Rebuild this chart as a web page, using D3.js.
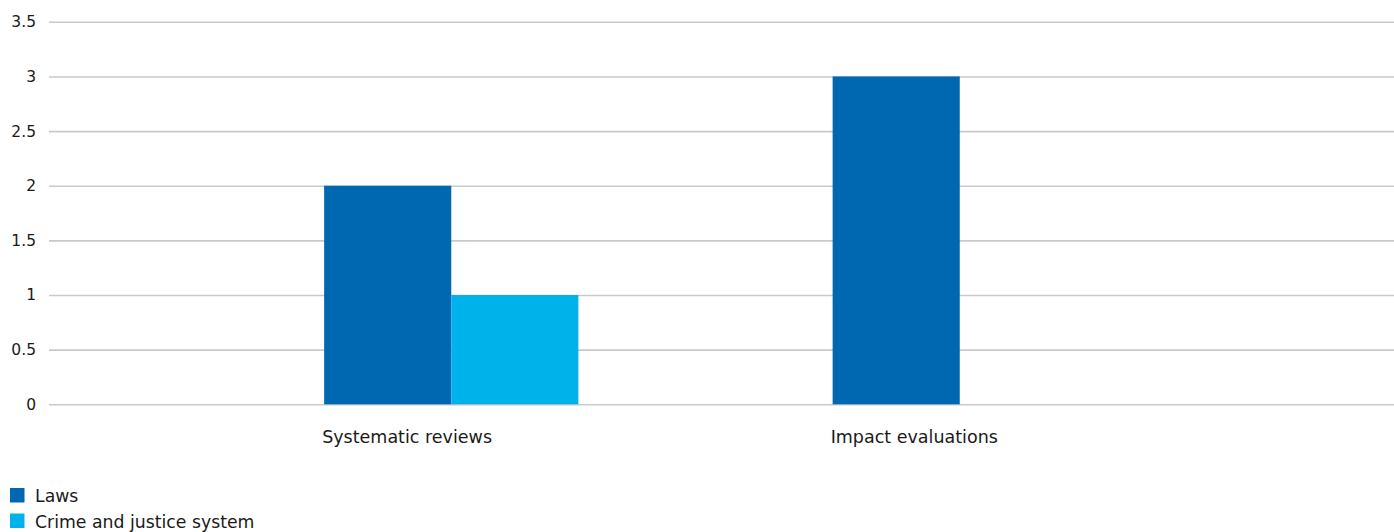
<!DOCTYPE html>
<html>
<head>
<meta charset="utf-8">
<script src="https://cdn.jsdelivr.net/npm/d3@7"></script>
<style>
  html, body { margin: 0; padding: 0; background: #fff; }
  svg { display: block; font-family: "DejaVu Sans", "Liberation Sans", Arial, sans-serif; }
</style>
</head>
<body>
<svg id="chart" width="1394" height="532"></svg>
<script>
// Categories, series and values
const categories = ["Systematic reviews", "Impact evaluations"];
const seriesNames = ["Laws", "Crime and justice system"];
const lawsValues = [2, 3];
const crimeJusticeValues = [1, 0];
const yTicks = [0, 0.5, 1, 1.5, 2, 2.5, 3, 3.5];
const seriesColors = ["#0067b1", "#00b2ea"];

const seriesValues = [lawsValues, crimeJusticeValues];
const rows = categories.map((c, i) => ({
  category: c,
  values: seriesNames.map((s, j) => ({ series: s, value: seriesValues[j][i] }))
}));

const svg = d3.select("#chart");
const plotLeft = 49, plotRight = 1394;

const y = d3.scaleLinear().domain([0, 3.5]).range([404.3, 21.8]);
const x0 = d3.scaleBand().domain(categories).range([197, 1214]).paddingInner(0).paddingOuter(0);
const x1 = d3.scaleBand().domain(seriesNames).range([0, x0.bandwidth()]).paddingInner(0).paddingOuter(1);
const color = d3.scaleOrdinal().domain(seriesNames).range(seriesColors);

// Horizontal gridlines with tick labels
const yAxis = d3.axisLeft(y).tickValues(yTicks).tickSize(-(plotRight - plotLeft)).tickPadding(13)
  .tickFormat(d => String(d));
const yg = svg.append("g").attr("transform", `translate(${plotLeft},0)`).call(yAxis);
yg.select(".domain").remove();
yg.selectAll(".tick line").attr("stroke", "#c9c9c9").attr("stroke-width", 1.6);
yg.selectAll(".tick text").attr("fill", "#1a1a1a").style("font-size", "15.5px")
  .style("font-family", "\"DejaVu Sans\", sans-serif");

// Grouped bars
const groups = svg.append("g").selectAll("g").data(rows).join("g")
  .attr("transform", d => `translate(${x0(d.category)},0)`);
groups.selectAll("rect").data(d => d.values).join("rect")
  .attr("x", d => x1(d.series))
  .attr("width", x1.bandwidth())
  .attr("y", d => y(d.value))
  .attr("height", d => y(0) - y(d.value))
  .attr("fill", d => color(d.series));

// Category labels, aligned with the start of each group
svg.append("g").selectAll("text").data(categories).join("text")
  .attr("x", d => x0(d) + x1(seriesNames[0]) - 2)
  .attr("y", 443)
  .attr("fill", "#1a1a1a")
  .style("font-size", "17.5px")
  .text(d => d);

// Legend
const legend = svg.append("g").attr("transform", "translate(10,488)");
const items = legend.selectAll("g").data(seriesNames).join("g")
  .attr("transform", (d, i) => `translate(0,${i * 25.5})`);
items.append("rect").attr("width", 14.5).attr("height", 14.5).attr("fill", d => color(d));
items.append("text").attr("x", 25).attr("y", 14)
  .attr("fill", "#1a1a1a").style("font-size", "17.3px").text(d => d);
</script>
</body>
</html>
